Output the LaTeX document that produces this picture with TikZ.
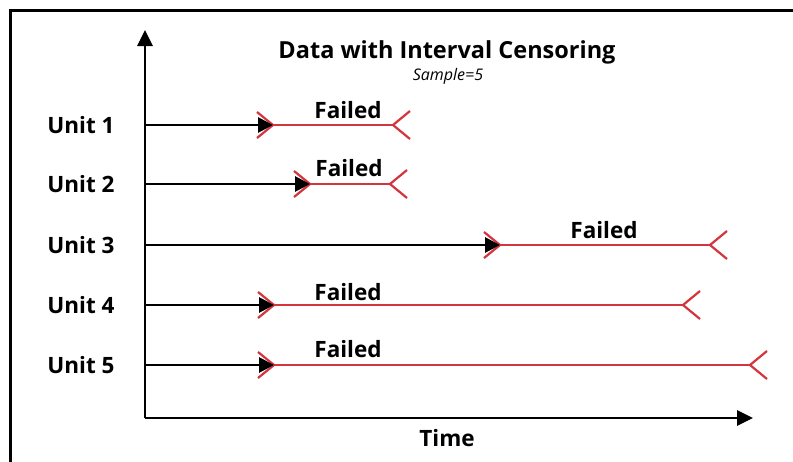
\documentclass[tikz,border=0pt]{standalone}
\usepackage{fontspec}
\setmainfont{Open Sans}
\usetikzlibrary{arrows.meta}
\definecolor{failred}{RGB}{212,52,62}
\begin{document}
\begin{tikzpicture}[x=1pt,y=-1pt,
  lbl/.style={font=\fontsize{22.5}{26}\selectfont\bfseries, inner sep=0pt},
  blk/.style={line width=2.8pt, -{Triangle[length=15pt,width=15pt]}},
  axisline/.style={line width=2.8pt, -{Triangle[length=16pt,width=15pt]}},
  redl/.style={draw=failred, line width=2.8pt},
  chev/.style={draw=failred, line width=2.2pt, line join=miter}]
\useasboundingbox (0,0) rectangle (793,461);
\fill[white] (0,0) rectangle (793,461);
\draw[line width=3pt] (10,480) -- (10,10) -- (810,10);

% axes
\coordinate (O) at (145,418);
\coordinate (ytop) at (145,30);
\coordinate (xend) at (753,418);
\draw[axisline] (O) -- (ytop);
\draw[axisline] (O) -- (xend);

\node[font=\fontsize{23.5}{28}\selectfont\bfseries, inner sep=0pt] (title) at (447,52) {Data with Interval Censoring};
\node[font=\fontsize{16}{18}\selectfont\itshape, inner sep=0pt] (sample) at (448,76) {Sample=5};
\node[lbl] (time) at (447,438) {Time};

% units: index / y / tip / end / failed x / failed y
\foreach \i/\y/\t/\e/\fx/\fy in {1/125/273/393/348/110, 2/184/310/390/349/168, 3/245/500/710/604/230, 4/305/274/683/348/292, 5/365/274/750/348/349}{
  \node[lbl] (unit\i) at (81,\y) {Unit \i};
  \coordinate (s\i) at (145,\y);
  \coordinate (t\i) at (\t,\y);
  \coordinate (e\i) at (\e,\y);
  \draw[chev] ([shift={(-16,-13)}]t\i) -- (t\i) -- ([shift={(-16,13)}]t\i);
  \draw[chev] ([shift={(17,-14)}]e\i) -- (e\i) -- ([shift={(17,14)}]e\i);
  \draw[redl] (t\i) -- (e\i);
  \draw[blk] (s\i) -- (t\i);
  \node[lbl] (fail\i) at (\fx,\fy) {Failed};
}
\end{tikzpicture}
\end{document}
